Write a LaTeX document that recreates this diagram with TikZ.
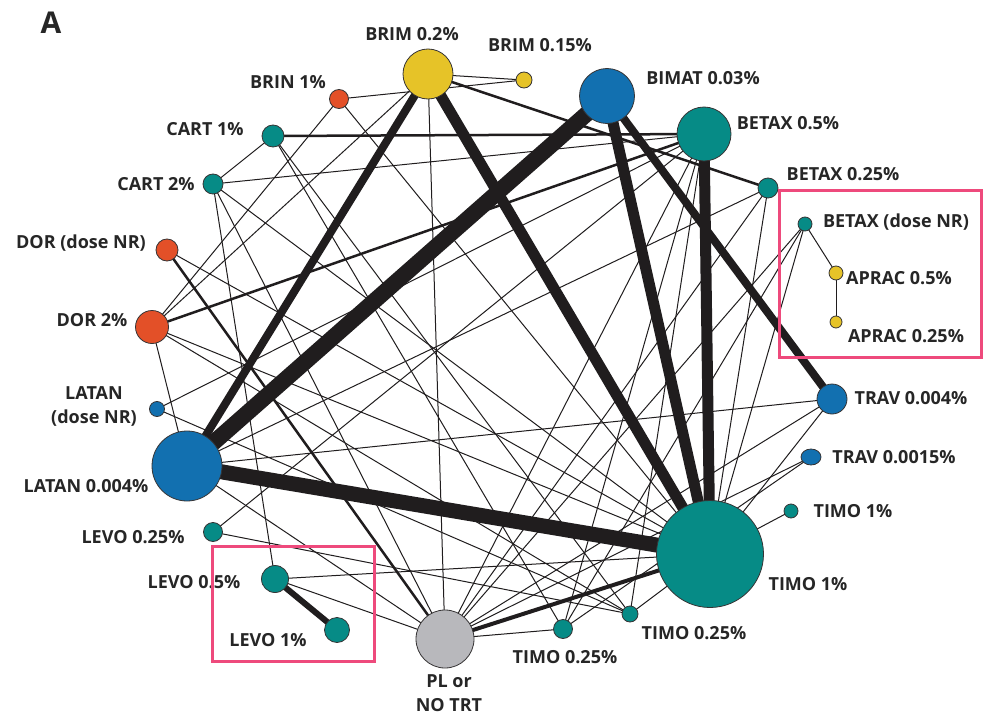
\documentclass[tikz,border=0pt]{standalone}
\usepackage{fontspec}
\setmainfont{Open Sans}
\usetikzlibrary{backgrounds,shapes.geometric}
\definecolor{cyel}{HTML}{E6C328}
\definecolor{cblue}{HTML}{1270B0}
\definecolor{cteal}{HTML}{068B86}
\definecolor{cred}{HTML}{E35028}
\definecolor{cgray}{HTML}{B8B8BC}
\definecolor{cpink}{HTML}{EE4A7C}
\definecolor{cedge}{HTML}{201D1E}
\definecolor{ctext}{HTML}{262626}
\tikzset{
  drug/.style={circle, draw=cedge!90, line width=0.8pt, inner sep=0pt, minimum size=#1},
  yel/.style={fill=cyel}, blu/.style={fill=cblue}, tea/.style={fill=cteal},
  red/.style={fill=cred}, gry/.style={fill=cgray},
  lbl/.style={text=ctext, inner sep=0pt, anchor=center,
    font=\bfseries\fontsize{18}{24}\selectfont, align=center},
  tedge/.style={draw=cedge, line width=1pt},
  wedge/.style={draw=cedge, line width=#1},
  hilite/.style={draw=cpink, line width=3pt}
}
\begin{document}
\begin{tikzpicture}[x=1pt, y=-1pt]
\useasboundingbox (0,0) rectangle (983,717);

% treatment nodes (size ~ number of participants)
\node[drug=50pt, yel] (BRIM02) at (428,74) {};
\node[drug=16pt, yel] (BRIM015) at (524,80) {};
\node[drug=55pt, blu] (BIMAT) at (607,96) {};
\node[drug=54pt, tea] (BETAX05) at (704,134) {};
\node[drug=20pt, tea] (BETAX025) at (768,188) {};
\node[drug=14pt, tea] (BETAXNR) at (805,224) {};
\node[drug=14pt, yel] (APRAC05) at (836,273) {};
\node[drug=12pt, yel] (APRAC025) at (836,322) {};
\node[drug=30pt, blu] (TRAV004) at (832,399) {};
\node[ellipse, draw=cedge!90, line width=0.8pt, inner sep=0pt, minimum width=20pt, minimum height=16pt, blu] (TRAV0015) at (811,457) {};
\node[drug=14pt, tea] (TIMOS) at (791,511) {};
\node[drug=107pt, tea] (TIMOB) at (710,554) {};
\node[drug=16pt, tea] (TIMO025R) at (630,614) {};
\node[drug=19pt, tea] (TIMO025L) at (563,629) {};
\node[drug=58pt, gry] (PL) at (445,639) {};
\node[drug=25pt, tea] (LEVO1) at (337,630) {};
\node[drug=27pt, tea] (LEVO05) at (275,579) {};
\node[drug=19pt, tea] (LEVO025) at (213,532) {};
\node[drug=70pt, blu] (LATAN) at (187,466) {};
\node[drug=15pt, blu] (LATANNR) at (157,409) {};
\node[drug=33pt, red] (DOR2) at (152,327) {};
\node[drug=22pt, red] (DORNR) at (167,250) {};
\node[drug=20pt, tea] (CART2) at (213,184) {};
\node[drug=22pt, tea] (CART1) at (273,136) {};
\node[drug=19pt, red] (BRIN) at (339,99) {};

% comparisons: line width ~ number of trials
\begin{scope}[on background layer]
  \fill[white] (0,0) rectangle (983,717);
  \foreach \a/\b in {BRIM02/BRIM015, BRIN/BRIM015, BRIN/DOR2, BRIN/TIMOB,
      BRIM02/DOR2, BRIM02/PL, CART1/CART2, CART1/TIMO025R, CART1/TIMO025L,
      CART2/BETAX05, CART2/LEVO05, CART2/TIMOB, CART2/PL, DORNR/TIMOB,
      DOR2/LATAN, DOR2/TIMOB, DOR2/TIMO025R, LATANNR/TIMO025R,
      LATAN/TRAV004, LATAN/BETAX025, LATAN/PL, LEVO025/BETAX05,
      LEVO025/TIMO025R, LEVO05/TIMOB, LEVO05/PL, BETAX025/TIMOB,
      BETAXNR/APRAC05, APRAC05/APRAC025, BETAXNR/PL, BETAXNR/TIMOB,
      BETAXNR/TIMO025L, TRAV004/TIMOB, TRAV004/PL, TRAV0015/PL,
      TRAV0015/TIMO025L, TIMOS/TIMOB, TIMO025R/TIMOB, TIMO025R/BETAX05,
      TIMO025L/PL, PL/BETAX05, PL/BETAX025, BETAX05/LATANNR,
      BETAX05/TIMO025L}
    \draw[tedge] (\a.center) -- (\b.center);
  \foreach \a/\b/\w in {BRIM02/LATAN/8, BRIM02/TIMOB/11, BIMAT/LATAN/16,
      BIMAT/TIMOB/11, BIMAT/TRAV004/8, BETAX05/TIMOB/11, LATAN/TIMOB/15,
      LEVO05/LEVO1/6, PL/TIMOB/4, DORNR/PL/2.5, DOR2/BETAX05/2.5,
      BRIM02/BETAX025/2.5, CART1/BETAX05/2.5}
    \draw[wedge=\w pt] (\a.center) -- (\b.center);
\end{scope}

% labels
\node[text=ctext, inner sep=0pt, font=\bfseries\fontsize{30}{30}\selectfont] (panel) at (51,23) {A};
\node[lbl] (tBRIM02) at (412,34) {BRIM 0.2\%};
\node[lbl] (tBRIM015) at (540,45) {BRIM 0.15\%};
\node[lbl] (tBIMAT) at (703,78) {BIMAT 0.03\%};
\node[lbl] (tBETAX05) at (788,123) {BETAX 0.5\%};
\node[lbl] (tBETAX025) at (843,174) {BETAX 0.25\%};
\node[lbl] (tBETAXNR) at (896,222) {BETAX (dose NR)};
\node[lbl] (tAPRAC05) at (899,278) {APRAC 0.5\%};
\node[lbl] (tAPRAC025) at (906,336) {APRAC 0.25\%};
\node[lbl] (tTRAV004) at (911,398) {TRAV 0.004\%};
\node[lbl] (tTRAV0015) at (894,457) {TRAV 0.0015\%};
\node[lbl] (tTIMOS) at (853,511) {TIMO 1\%};
\node[lbl] (tTIMOB) at (808,584) {TIMO 1\%};
\node[lbl] (tTIMO025R) at (694,633) {TIMO 0.25\%};
\node[lbl] (tTIMO025L) at (565,657) {TIMO 0.25\%};
\node[lbl] (tPL) at (449,693) {PL or\\NO TRT};
\node[lbl] (tLEVO1) at (268,640) {LEVO 1\%};
\node[lbl] (tLEVO05) at (194,582) {LEVO 0.5\%};
\node[lbl] (tLEVO025) at (133,537) {LEVO 0.25\%};
\node[lbl] (tLATAN) at (86,486) {LATAN 0.004\%};
\node[lbl] (tLATANNR) at (94,406) {LATAN\\(dose NR)};
\node[lbl] (tDOR2) at (92,320) {DOR 2\%};
\node[lbl] (tDORNR) at (81,243) {DOR (dose NR)};
\node[lbl] (tCART2) at (156,184) {CART 2\%};
\node[lbl] (tCART1) at (205,129) {CART 1\%};
\node[lbl] (tBRIN) at (288,82) {BRIN 1\%};

% highlighted groups
\draw[hilite] (779,190) rectangle (981,357);
\draw[hilite] (212,546) rectangle (374,661);
\end{tikzpicture}
\end{document}
